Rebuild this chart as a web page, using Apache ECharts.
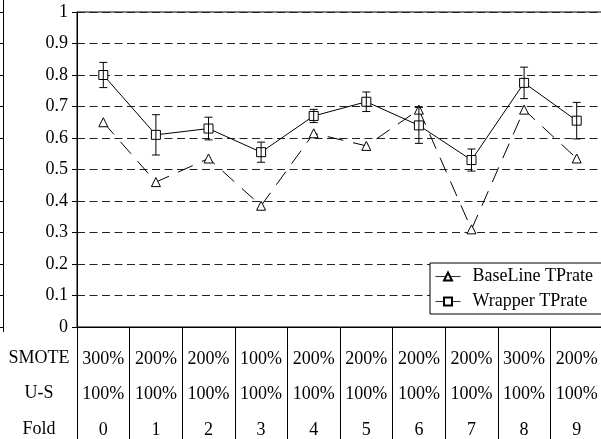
<!DOCTYPE html>
<html>
<head>
<meta charset="utf-8">
<script src="https://cdn.jsdelivr.net/npm/echarts@6/dist/echarts.min.js"></script>
<style>
  html, body { margin: 0; padding: 0; background: #fff; }
  #chart { width: 601px; height: 439px; }
</style>
</head>
<body>
<div id="chart"></div>
<script>
// Per-fold experiment settings shown in the table under the plot
const folds = ['0', '1', '2', '3', '4', '5', '6', '7', '8', '9'];
const smoteRates = ['300%', '200%', '200%', '100%', '200%', '200%', '200%', '200%', '300%', '200%'];
const underSampling = ['100%', '100%', '100%', '100%', '100%', '100%', '100%', '100%', '100%', '100%'];
const rowLabels = ['SMOTE', 'U-S', 'Fold'];

// True-positive rates per fold
const baselineTPrate = [0.65, 0.46, 0.535, 0.385, 0.615, 0.575, 0.69, 0.31, 0.69, 0.535];
const wrapperTPrate = [0.80, 0.61, 0.63, 0.555, 0.67, 0.715, 0.64, 0.53, 0.775, 0.655];
const wrapperErr = [0.04, 0.064, 0.036, 0.032, 0.021, 0.031, 0.057, 0.035, 0.05, 0.058];

const yTicks = { min: 0, max: 1, interval: 0.1 };

const serif = '"Liberation Serif", "Times New Roman", serif';
const fontSize = 18;
const rowHeight = 35.6;
const chart = echarts.init(document.getElementById('chart'), null, { renderer: 'canvas' });

const errData = wrapperTPrate.map((v, i) => [i, v, wrapperErr[i]]);

const option = {
  animation: false,
  backgroundColor: '#fff',
  textStyle: { fontFamily: serif, color: '#000' },
  grid: [
    { left: 77, top: 12, width: 526, height: 315, outerBoundsMode: 'none', containLabel: false,
      show: true, borderColor: '#000', borderWidth: 1, backgroundColor: 'transparent' },
    { left: 3, top: 12, width: 1, height: 315, outerBoundsMode: 'none', containLabel: false, show: false }
  ],
  legend: {
    orient: 'vertical',
    left: 430,
    top: 263,
    backgroundColor: '#fff',
    borderColor: '#000',
    borderWidth: 1,
    borderRadius: 0,
    padding: [3, 12, 2, 5],
    itemWidth: 25,
    itemHeight: 10,
    itemGap: 4,
    lineStyle: { type: 'solid', color: '#333', width: 1 },
    textStyle: { fontFamily: serif, fontSize: fontSize, color: '#000', lineHeight: 21, padding: [0, 0, 0, 7] },
    data: ['BaseLine TPrate', 'Wrapper TPrate']
  },
  xAxis: [
    {
      type: 'category',
      gridIndex: 0,
      data: folds,
      boundaryGap: true,
      axisLine: { show: true, lineStyle: { color: '#000', width: 1 } },
      axisTick: { show: true, interval: 0, length: 112, lineStyle: { color: '#000', width: 1 } },
      axisLabel: {
        interval: 0,
        margin: 14,
        fontFamily: serif,
        fontSize: fontSize,
        color: '#000',
        lineHeight: rowHeight,
        formatter: (val, idx) => smoteRates[idx] + '\n' + underSampling[idx] + '\n' + folds[idx]
      },
      splitLine: { show: false }
    },
    { type: 'value', gridIndex: 1, show: false }
  ],
  yAxis: [
    {
      type: 'value',
      gridIndex: 0,
      min: yTicks.min,
      max: yTicks.max,
      interval: yTicks.interval,
      axisLine: { show: true, lineStyle: { color: '#000', width: 1 } },
      axisTick: { show: true, length: 5, lineStyle: { color: '#000', width: 1 } },
      axisLabel: { margin: 9, fontFamily: serif, fontSize: fontSize, color: '#000', formatter: v => String(+v.toFixed(1)) },
      splitLine: { show: true, lineStyle: { color: '#222', width: 1, type: [8, 4.5] } }
    },
    {
      type: 'value',
      gridIndex: 1,
      min: yTicks.min,
      max: yTicks.max,
      interval: yTicks.interval,
      axisLine: { show: true, lineStyle: { color: '#000', width: 1 } },
      axisTick: { show: true, length: 3, lineStyle: { color: '#000', width: 1 } },
      axisLabel: { show: false },
      splitLine: { show: false }
    }
  ],
  series: [
    {
      name: 'BaseLine TPrate',
      type: 'line',
      data: baselineTPrate,
      symbol: 'triangle',
      symbolSize: 9,
      showAllSymbol: true,
      lineStyle: { color: '#000', width: 1, type: [16, 10] },
      itemStyle: { color: '#fff', borderColor: '#000', borderWidth: 1 },
      z: 3
    },
    {
      name: 'Wrapper TPrate',
      type: 'line',
      data: wrapperTPrate,
      symbol: 'rect',
      symbolSize: 9,
      showAllSymbol: true,
      lineStyle: { color: '#000', width: 1, type: 'solid' },
      itemStyle: { color: '#fff', borderColor: '#000', borderWidth: 1 },
      z: 4
    },
    {
      name: 'Wrapper error',
      type: 'custom',
      data: errData,
      encode: { x: 0, y: 1 },
      z: 5,
      silent: true,
      renderItem: (params, api) => {
        const i = api.value(0);
        const v = api.value(1);
        const e = api.value(2);
        const top = api.coord([i, v + e]);
        const bot = api.coord([i, v - e]);
        const cap = 4;
        const style = { stroke: '#000', lineWidth: 1 };
        return {
          type: 'group',
          children: [
            { type: 'line', shape: { x1: top[0], y1: top[1], x2: bot[0], y2: bot[1] }, style },
            { type: 'line', shape: { x1: top[0] - cap, y1: top[1], x2: top[0] + cap, y2: top[1] }, style },
            { type: 'line', shape: { x1: bot[0] - cap, y1: bot[1], x2: bot[0] + cap, y2: bot[1] }, style }
          ]
        };
      }
    }
  ],
  graphic: [
    // left frame edge of the neighbouring panel
    { type: 'line', shape: { x1: 3.5, y1: 0, x2: 3.5, y2: 332 }, style: { stroke: '#000', lineWidth: 1 }, silent: true },
    ...rowLabels.map((t, k) => ({
      type: 'text',
      x: 39,
      y: 358 + k * rowHeight,
      style: { text: t, fill: '#000', font: fontSize + 'px ' + serif, textAlign: 'center', textVerticalAlign: 'middle' },
      silent: true
    }))
  ]
};

chart.setOption(option);
</script>
</body>
</html>
